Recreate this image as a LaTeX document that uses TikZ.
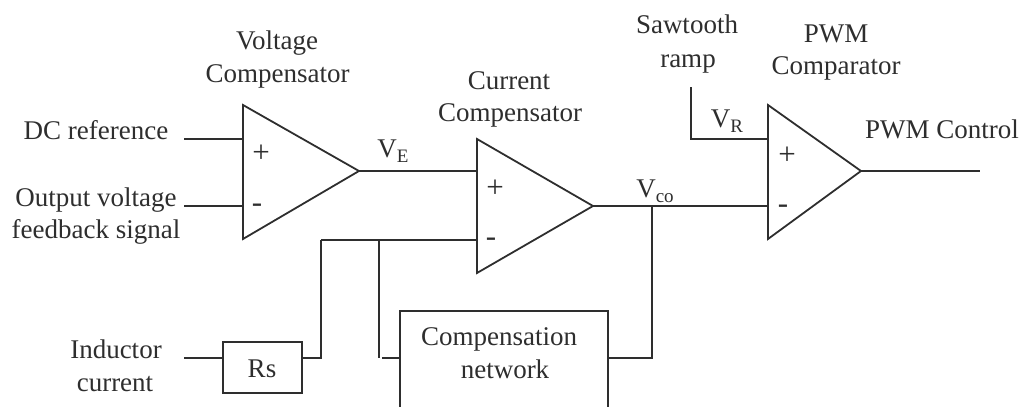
\documentclass[tikz,border=0pt]{standalone}
\usepackage{fontspec}
\setmainfont{Liberation Serif}
\definecolor{ink}{HTML}{2E2E2E}
\newcommand{\subtxt}[1]{\raisebox{-5pt}{\fontsize{19}{20}\selectfont #1}}
\tikzset{
  x=1pt,y=-1pt,
  wire/.style={draw=ink,line width=1.8pt,line join=miter},
  txt/.style={inner sep=0pt,anchor=base,text=ink,font=\fontsize{27}{30}\selectfont},
  sign/.style={inner sep=0pt,anchor=base,text=ink,font=\fontsize{31}{32}\selectfont},
  boxnode/.style={draw=ink,line width=1.8pt,inner sep=0pt,minimum width=79pt,minimum height=51pt},
}
\begin{document}
\begin{tikzpicture}
\useasboundingbox (0,0) rectangle (1021,407);
% amplifier corners
\coordinate (A1t) at (243,105); \coordinate (A1b) at (243,239); \coordinate (A1o) at (359,171);
\coordinate (A2t) at (477,139); \coordinate (A2b) at (477,273); \coordinate (A2o) at (593,206);
\coordinate (A3t) at (768,105); \coordinate (A3b) at (768,239); \coordinate (A3o) at (861,171);
\draw[wire] (A1t) -- (A1o) -- (A1b) -- cycle;
\draw[wire] (A2t) -- (A2o) -- (A2b) -- cycle;
\draw[wire] (A3t) -- (A3o) -- (A3b) -- cycle;
% pins and free ends
\coordinate (A1p) at (243,139); \coordinate (A1m) at (243,206);
\coordinate (A2p) at (477,171); \coordinate (A2m) at (477,240);
\coordinate (A3p) at (768,139); \coordinate (A3m) at (768,206);
\coordinate (dc) at (184,139); \coordinate (fb) at (184,206);
\coordinate (ind) at (184,358);
\coordinate (saw) at (691,87); \coordinate (sawc) at (691,139);
\coordinate (out) at (980,171);
\coordinate (jr) at (321,358); \coordinate (jrt) at (321,240);
\coordinate (jn) at (379,240); \coordinate (jnb) at (379,358);
\coordinate (cl) at (382,358); \coordinate (cr) at (608,358);
\coordinate (cjl) at (400,358); \coordinate (jv) at (652,358); \coordinate (jvt) at (652,206);
% boxes
\node[boxnode] (rs) at (262.5,367.5) {};
\coordinate (c1) at (400,407); \coordinate (c2) at (400,311); \coordinate (c3) at (608,311); \coordinate (c4) at (608,407);
\draw[wire] (c1) -- (c2) -- (c3) -- (c4);
% connectors
\draw[wire] (dc) -- (A1p);
\draw[wire] (fb) -- (A1m);
\draw[wire] (A1o) -- (A2p);
\draw[wire] (A2o) -- (A3m);
\draw[wire] (jrt) -- (A2m);
\draw[wire] (jn) -- (jnb);
\draw[wire] (ind) -- (rs.west |- ind);
\draw[wire] (rs.east |- jr) -- (jr) -- (jrt);
\draw[wire] (cl) -- (cjl);
\draw[wire] (cr) -- (jv) -- (jvt);
\draw[wire] (saw) -- (sawc) -- (A3p);
\draw[wire] (A3o) -- (out);
% labels
\node[txt] (t1) at (277,49) {Voltage};
\node[txt] (t2) at (277.5,82) {Compensator};
\node[txt] (t3) at (509,89) {Current};
\node[txt] (t4) at (510,121) {Compensator};
\node[txt] (t5) at (687,33) {Sawtooth};
\node[txt] (t6) at (688,67) {ramp};
\node[txt] (t7) at (836,42) {PWM};
\node[txt] (t8) at (836,74) {Comparator};
\node[txt] (t9) at (942,138) {PWM Control};
\node[txt] (t10) at (96,139) {DC reference};
\node[txt] (t11) at (96,206) {Output voltage};
\node[txt] (t12) at (96,238) {feedback signal};
\node[txt] (t13) at (116,358) {Inductor};
\node[txt] (t14) at (115,391) {current};
\node[txt] (t15) at (262,377) {Rs};
\node[txt] (t16) at (499,345) {Compensation};
\node[txt] (t17) at (505,378) {network};
\node[txt] (ve) at (393,157) {V\subtxt{E}};
\node[txt] (vr) at (727,127) {V\subtxt{R}};
\node[txt] (vco) at (655,197) {V\subtxt{co}};
\node[sign] (p1) at (261,162) {+};
\node[sign] (m1) at (257,212) {-};
\node[sign] (p2) at (495,197) {+};
\node[sign] (m2) at (491,246) {-};
\node[sign] (p3) at (787,164) {+};
\node[sign] (m3) at (783,213) {-};
\end{tikzpicture}
\end{document}
